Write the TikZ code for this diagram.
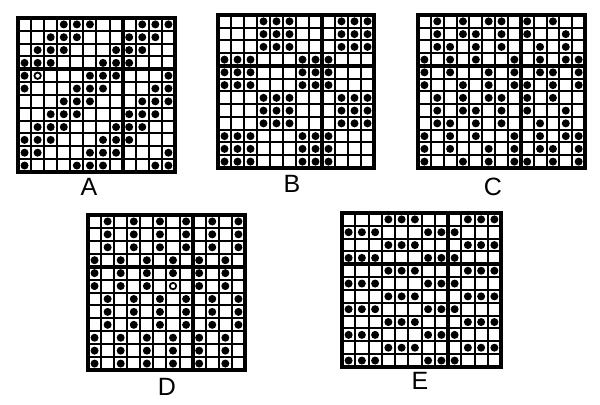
\documentclass[tikz,border=0pt]{standalone}
\usepackage{fontspec}
\setmainfont{Liberation Sans}

\tikzset{
  gridline/.style={line width=1pt},
  divider/.style={line width=1.9pt},
  frame/.style={line width=1.9pt},
  stone/.style={fill=black},
  ring/.style={draw=black,fill=white,line width=0.9pt},
  gridlabel/.style={font=\fontsize{12.5}{14}\selectfont,inner sep=0pt},
}

% left, top, cell width, cell height, columns, rows of dots
\newcommand{\dotgrid}[6]{%
  \foreach \i in {1,...,#5} {\draw[gridline] ({#1+\i*#3},#2) -- ++(0,{12*#4});}
  \foreach \j in {1,...,11} {\draw[gridline] (#1,{#2+\j*#4}) -- ++({#5*#3},0);}
  \draw[divider] ({#1+8*#3},#2) -- ++(0,{12*#4});
  \draw[divider] (#1,{#2+4*#4}) -- ++({#5*#3},0);
  \draw[frame] (#1,#2) rectangle ({#1+#5*#3},{#2+12*#4});
  \foreach \r/\cs in {#6} {
    \foreach \c in \cs {\fill[stone] ({#1+(\c-0.5)*#3},{#2+(\r-0.5)*#4}) circle (2pt);}
  }%
}

\begin{document}
\begin{tikzpicture}[x=0.5pt,y=-0.5pt]
  \useasboundingbox (0,0) rectangle (600,405);

  % A
  \dotgrid{18}{18}{13.08}{12.83}{12}{1/{4,5,6,10,11,12},2/{3,4,5,9,10,11},3/{2,3,4,8,9,10},
    4/{1,2,3,7,8,9},5/{1,6,7,8,12},6/{1,5,6,7,11,12},7/{4,5,6,10,11,12},8/{3,4,5,9,10,11},
    9/{2,3,4,8,9,10},10/{1,2,3,7,8,9},11/{1,2,6,7,8,12},12/{1,5,6,7,11,12}}
  \filldraw[ring] ({18+1.5*13.08},{18+4.5*12.83}) circle (1.6pt);
  \node[gridlabel] (labA) at (89,187) {A};

  % B
  \dotgrid{218}{15}{13.0}{12.75}{12}{1/{4,5,6,10,11,12},2/{4,5,6,10,11,12},3/{4,5,6,10,11,12},
    4/{1,2,3,7,8,9},5/{1,2,3,7,8,9},6/{1,2,3,7,8,9},7/{4,5,6,10,11,12},8/{4,5,6,10,11,12},
    9/{4,5,6,10,11,12},10/{1,2,3,7,8,9},11/{1,2,3,7,8,9},12/{1,2,3,7,8,9}}
  \node[gridlabel] (labB) at (292,184) {B};

  % C
  \dotgrid{418}{15}{12.85}{12.75}{13}{1/{2,4,6,7,9,11},2/{2,4,5,7,9,12},3/{2,3,5,7,10,12},
    4/{1,3,5,8,10,12,13},5/{1,3,6,8,10,11,13},6/{1,4,6,8,9,11,13},7/{2,4,6,7,9,11},
    8/{2,4,5,7,9,12},9/{2,3,5,7,10,12},10/{1,3,5,8,10,12,13},11/{1,3,6,8,10,11,13},
    12/{1,4,6,8,9,11,13}}
  \node[gridlabel] (labC) at (493,187) {C};

  % D
  \dotgrid{88}{215}{13.08}{12.92}{12}{1/{2,4,6,8,10,12},2/{2,4,6,8,10,12},3/{2,4,6,8,10,12},
    4/{1,3,5,7,9,11},5/{1,3,5,7,9,11},6/{1,3,5,9,11},7/{2,4,6,8,10,12},8/{2,4,6,8,10,12},
    9/{2,4,6,8,10,12},10/{1,3,5,7,9,11},11/{1,3,5,7,9,11},12/{1,3,5,7,9,11}}
  \filldraw[ring] ({88+6.5*13.08},{215+5.5*12.92}) circle (1.6pt);
  \node[gridlabel] (labD) at (167,387) {D};

  % E
  \dotgrid{342}{213}{13.25}{12.83}{12}{1/{4,5,6,10,11,12},2/{1,2,3,7,8,9},3/{4,5,6,10,11,12},
    4/{1,2,3,7,8,9},5/{4,5,6,10,11,12},6/{1,2,3,7,8,9},7/{4,5,6,10,11,12},8/{1,2,3,7,8,9},
    9/{4,5,6,10,11,12},10/{1,2,3,7,8,9},11/{4,5,6,10,11,12},12/{1,2,3,7,8,9}}
  \node[gridlabel] (labE) at (420,381) {E};

\end{tikzpicture}
\end{document}
